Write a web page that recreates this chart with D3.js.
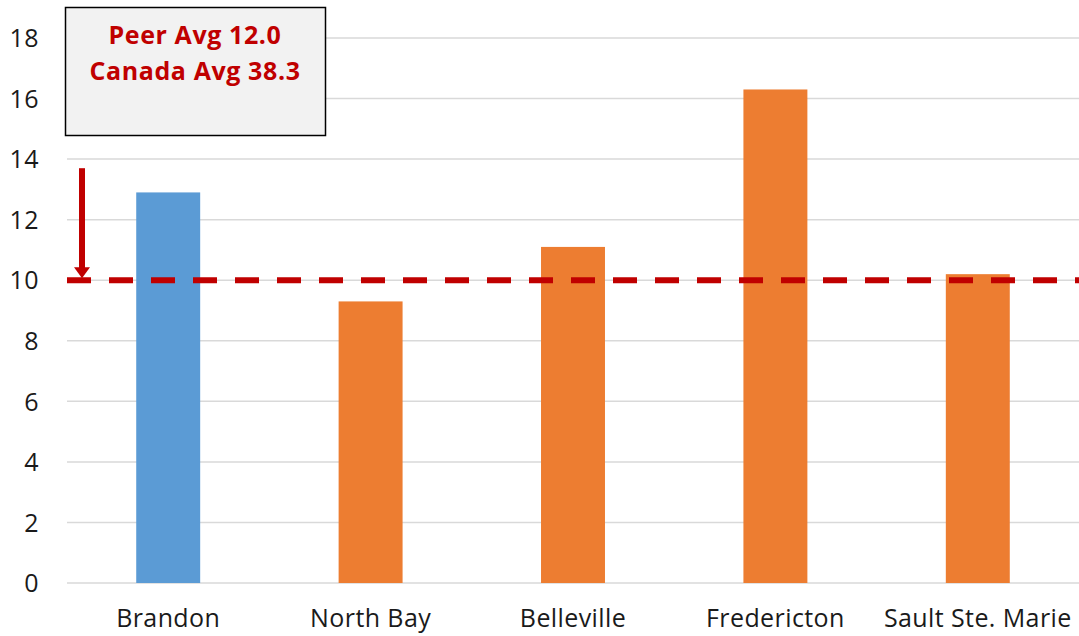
<!DOCTYPE html>
<html><head><meta charset="utf-8">
<script src="https://cdn.jsdelivr.net/npm/d3@7"></script>
<style>body{margin:0;background:#fff}svg{display:block}</style>
</head><body>
<script>
const categories = ["Brandon","North Bay","Belleville","Fredericton","Sault Ste. Marie"];
const values = [12.9, 9.3, 11.1, 16.3, 10.2];
const highlight = ["Brandon"];
const yTicks = [0,2,4,6,8,10,12,14,16,18];
const refValue = 10;
const boxLines = ["Peer Avg 12.0","Canada Avg 38.3"];

const W = 1079, H = 636;
const m = {left: 67, right: 0, top: 38, bottom: 53};
const svg = d3.select("body").append("svg").attr("width", W).attr("height", H);
const x = d3.scaleBand().domain(categories).range([m.left, W - m.right]).paddingInner(0.684).paddingOuter(0.342);
const y = d3.scaleLinear().domain([0,18]).range([H - m.bottom, m.top]);
const font = "'Open Sans', Lato, sans-serif";

// gridlines
svg.append("g").selectAll("line").data(yTicks).join("line")
  .attr("x1", m.left).attr("x2", W - m.right)
  .attr("y1", d => y(d)).attr("y2", d => y(d))
  .attr("stroke", "#D9D9D9").attr("stroke-width", 1.5);

// y axis labels
const yAxis = svg.append("g").attr("transform", `translate(${m.left - 28},0)`)
  .call(d3.axisLeft(y).tickValues(yTicks).tickSize(0).tickPadding(0));
yAxis.select(".domain").remove();
yAxis.selectAll("text").attr("font-family", font).attr("font-size", 25).attr("letter-spacing", 0.5)
  .attr("fill", "#1a1a1a").attr("dy", "0.35em");

// bars
svg.append("g").selectAll("rect").data(categories).join("rect")
  .attr("x", d => x(d)).attr("width", x.bandwidth())
  .attr("y", (d,i) => y(values[i])).attr("height", (d,i) => y(0) - y(values[i]))
  .attr("fill", d => highlight.includes(d) ? "#5B9BD5" : "#ED7D31");

// x labels
const xAxis = svg.append("g").attr("transform", `translate(0,${y(0)})`)
  .call(d3.axisBottom(x).tickSize(0).tickPadding(26));
xAxis.select(".domain").remove();
xAxis.selectAll("text").attr("font-family", font).attr("font-size", 25).attr("letter-spacing", 0.4)
  .attr("fill", "#1a1a1a");

// reference dashed line
svg.append("line").attr("x1", m.left).attr("x2", W).attr("y1", y(refValue)).attr("y2", y(refValue))
  .attr("stroke", "#C00000").attr("stroke-width", 6).attr("stroke-dasharray", "24,18");

// arrow
const ax = 82;
svg.append("line").attr("x1", ax).attr("x2", ax).attr("y1", y(13.7)).attr("y2", y(refValue) - 12)
  .attr("stroke", "#C00000").attr("stroke-width", 6);
svg.append("path")
  .attr("d", `M${ax-8},${y(refValue)-13} L${ax+8},${y(refValue)-13} L${ax},${y(refValue)-2} Z`)
  .attr("fill", "#C00000");

// text box
svg.append("rect").attr("x", 65.5).attr("y", 7.5).attr("width", 260).attr("height", 128)
  .attr("fill", "#F2F2F2").attr("stroke", "#000").attr("stroke-width", 1.5);
svg.append("g").selectAll("text").data(boxLines).join("text")
  .attr("x", 195).attr("y", (d,i) => 44 + i*36)
  .attr("text-anchor", "middle").attr("font-family", font).attr("font-weight", "bold")
  .attr("font-size", 25).attr("letter-spacing", 0.6).attr("fill", "#C00000").text(d => d);
</script>
</body></html>
